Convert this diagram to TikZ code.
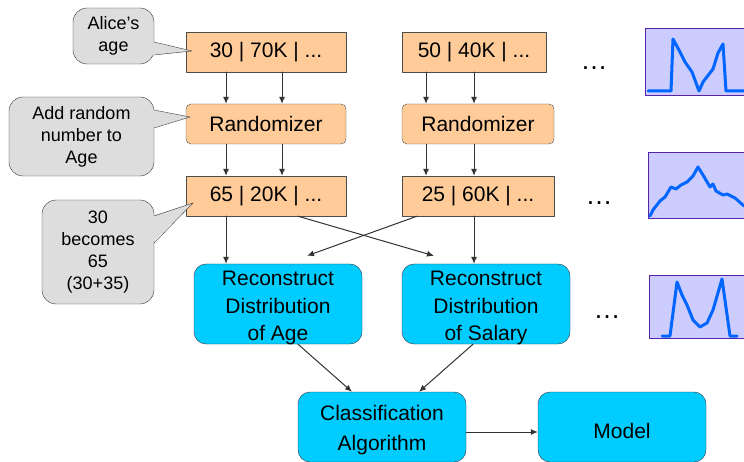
\documentclass[tikz,border=0pt]{standalone}
\usepackage{fontspec}
\setmainfont{Liberation Sans}
\usetikzlibrary{arrows.meta}
\definecolor{peach}{HTML}{FFCC99}
\definecolor{skyblue}{HTML}{00CCFF}
\definecolor{notegray}{HTML}{DDDDDD}
\definecolor{plotbg}{HTML}{CCCCFF}
\definecolor{plotedge}{HTML}{5522AA}
\definecolor{curveblue}{HTML}{0066FF}
\begin{document}
\begin{tikzpicture}[x=1pt, y=-1pt, line join=round, line cap=round, >={Latex[length=7pt,width=6pt]},
	rec/.style={draw=black!70, fill=peach, minimum height=40pt, inner sep=0pt, font=\fontsize{21}{24}\selectfont},
	rnd/.style={rec, rounded corners=5pt},
	dist/.style={draw=black!80, fill=skyblue, rounded corners=12pt, minimum width=168pt, inner sep=0pt, align=center, font=\fontsize{21}{27.5}\selectfont},
	note/.style={draw=black!80, fill=notegray, rounded corners=14pt, inner sep=0pt, align=center, font=\fontsize{18}{22}\selectfont},
	arr/.style={->, draw=black!80, line width=1pt},
	plotbox/.style={fill=plotbg, draw=plotedge, line width=1pt},
	curve/.style={curveblue, line width=3pt},
	dots/.style={font=\fontsize{27}{30}\selectfont}]
	\useasboundingbox (0,0) rectangle (744,462);
	\node[rec, minimum width=160pt] (in1) at (266,52) {30 | 70K | ...};
	\node[rnd, minimum width=160pt] (rnd1) at (266,124) {Randomizer};
	\node[rec, minimum width=160pt] (out1) at (266,196) {65 | 20K | ...};
	\node[rec, minimum width=144pt] (in2) at (474,52) {50 | 40K | ...};
	\node[rnd, minimum width=152pt] (rnd2) at (478,124) {Randomizer};
	\node[rec, minimum width=152pt] (out2) at (478,196) {25 | 60K | ...};
	\node[dist, text height=76.5pt, text depth=3.5pt] (recage) at (278,304) {Reconstruct\\Distribution\\of Age};
	\node[dist, text height=76.5pt, text depth=3.5pt] (recsal) at (486,304) {Reconstruct\\Distribution\\of Salary};
	\node[dist, text height=58.5pt, text depth=11.5pt, font=\fontsize{21}{30}\selectfont] (classify) at (382,427) {Classification\\Algorithm};
	\node[dist, text height=46.5pt, text depth=23.5pt] (model) at (622,427) {Model};
	\foreach \dx in {-40,16} {
		\draw[arr] ([xshift=\dx pt]in1.south) -- ([xshift=\dx pt]rnd1.north);
		\draw[arr] ([xshift=\dx pt]rnd1.south) -- ([xshift=\dx pt]out1.north);
	}
	\foreach \dx in {-48,0} {
		\draw[arr] ([xshift=\dx pt]in2.south) -- ([xshift=\dx pt-4pt]rnd2.north);
		\draw[arr] ([xshift=\dx pt-4pt]rnd2.south) -- ([xshift=\dx pt-4pt]out2.north);
	}
	\coordinate (tosal) at ([xshift=-52pt,yshift=8pt]recsal.north);
	\coordinate (toage) at ([xshift=29pt,yshift=8pt]recage.north);
	\draw[arr] ([xshift=-40pt]out1.south) -- ([xshift=-52pt]recage.north);
	\draw[arr] ([xshift=32pt]out1.south) -- (tosal);
	\draw[arr] ([xshift=-61pt]out2.south) -- (toage);
	\draw[arr] ([xshift=-4pt]out2.south) -- ([xshift=-12pt]recsal.north);
	\draw[arr] ([xshift=20pt]recage.south) -- ([xshift=-30pt]classify.north);
	\draw[arr] ([xshift=-13pt]recsal.south) -- ([xshift=37pt]classify.north);
	\draw[arr] ([yshift=-5pt]classify.east) -- ([yshift=-5pt]model.west);
	\node[note, minimum width=81pt, minimum height=56pt] (alice) at (113.5,36) {Alice’s\\age};
	\fill[notegray] (152,42) -- (192,51) -- (152,55) -- cycle;
	\draw[black!80] (154,42) -- (192,51) -- (154,55);
	\node[note, minimum width=145pt, minimum height=79pt] (addnum) at (81.5,136.5) {Add random\\number to\\Age};
	\fill[notegray] (152,110) -- (190,117) -- (152,128) -- cycle;
	\draw[black!80] (154,110) -- (190,117) -- (154,128);
	\node[note, minimum width=112pt, minimum height=104pt] (becomes) at (98,252) {30\\becomes\\65\\(30+35)};
	\fill[notegray] (152,216) -- (193,203) -- (152,243) -- cycle;
	\draw[black!80] (154,216) -- (193,203) -- (154,243);
	\node[dots] (dots1) at (594,68) {…};
	\node[dots] (dots2) at (599,203) {…};
	\node[dots] (dots3) at (607,317) {…};
	\begin{scope}
		\clip (0,0) rectangle (744,462);
		\draw[plotbox] (645,29) rectangle (760,96);
		\draw[curve] (648,91) -- (671,91) -- (673,39) -- (680,52) -- (685,62) -- (692,72) -- (699,91) -- (703,82) -- (713,69) -- (718,53) -- (723,44) -- (726,91) -- (744,91);
		\draw[plotbox] (648,153) rectangle (760,219);
		\draw[curve] (650,216) -- (653,210) -- (660,201) -- (665,197) -- (671,187) -- (676,189) -- (681,185) -- (687,182) -- (693,176) -- (698,167) -- (703,175) -- (710,187) -- (713,184) -- (716,191) -- (723,195) -- (727,194) -- (735,198) -- (744,206);
		\draw[plotbox] (649,276) rectangle (760,338);
		\draw[curve] (662,336) -- (670,336) -- (677,282) -- (682,295) -- (687,305) -- (693,320) -- (700,327) -- (707,323) -- (713,310) -- (722,279) -- (730,336) -- (737,336);
	\end{scope}
\end{tikzpicture}
\end{document}
